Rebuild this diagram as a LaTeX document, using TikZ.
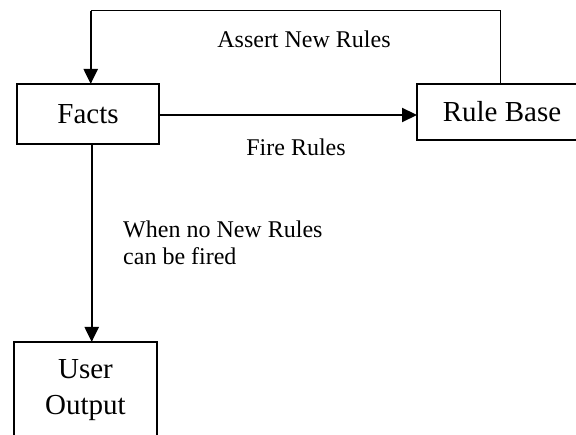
\documentclass[tikz,border=0pt]{standalone}
\usepackage{fontspec}
\setmainfont{Liberation Serif}
\usetikzlibrary{arrows.meta}
\tikzset{
  box/.style={draw, line width=1.3pt, inner sep=0pt, outer sep=0pt, align=center,
    font=\fontsize{29}{36}\selectfont},
  lbl/.style={inner sep=0pt, align=left, font=\fontsize{24}{27}\selectfont},
  thickarrow/.style={line width=2.2pt, -{Triangle[length=15pt,width=14pt]}},
  thinline/.style={line width=1pt}
}
\begin{document}
\begin{tikzpicture}[x=1pt,y=-1pt]
\useasboundingbox (0,0) rectangle (576,435);
\node[box, minimum width=142pt, minimum height=60pt] (facts) at (88,114) {Facts};
\node[box, minimum width=170pt, minimum height=56pt] (rb) at (502,112) {Rule Base};
\node[box, minimum width=143pt, minimum height=96pt] (user) at (85.5,390) {User\\Output};
\coordinate (corner) at (90.7,11);
\draw[thinline] ([xshift=83.5pt]rb.north west) |- (corner);
\draw[thickarrow] (corner) -- (corner |- facts.north);
\draw[thickarrow] (facts.east |- 0,115) -- (rb.west |- 0,115);
\draw[thickarrow] ([xshift=3.7pt]facts.south) -- ([xshift=3.7pt]facts.south |- user.north);
\node[lbl, anchor=base] (assert) at (304,48) {Assert New Rules};
\node[lbl, anchor=base] (fire) at (296,156) {Fire Rules};
\node[lbl, anchor=base west] (when) at (123,265) {When no New Rules\\can be fired};
\end{tikzpicture}
\end{document}
